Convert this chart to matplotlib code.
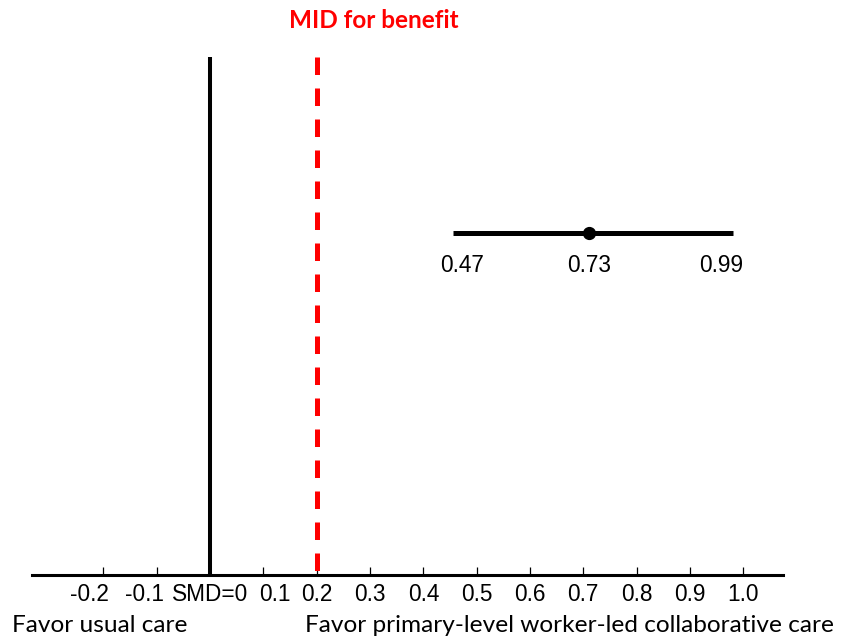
import matplotlib
matplotlib.use("Agg")
import matplotlib.pyplot as plt
import matplotlib.transforms as mtransforms

# ---- data ----
tick_values = [-0.2, -0.1, 0.0, 0.1, 0.2, 0.3, 0.4, 0.5, 0.6, 0.7, 0.8, 0.9, 1.0]
tick_labels = ["-0.2", "-0.1", "SMD=0", "0.1", "0.2", "0.3", "0.4", "0.5", "0.6", "0.7", "0.8", "0.9", "1.0"]
ci_low, estimate, ci_high = 0.456, 0.711, 0.981
ci_labels = ["0.47", "0.73", "0.99"]
null_line = 0.0
mid_line = 0.2
mid_label = "MID for benefit"
left_label = "Favor usual care"
right_label = "Favor primary-level worker-led collaborative care"

W, H = 852, 640
fig = plt.figure(figsize=(W / 100, H / 100), dpi=100)
ax = fig.add_axes([0, 0, 1, 1])
x0_px, unit_px = 210.0, 533.3
ax.set_xlim(-x0_px / unit_px, (W - x0_px) / unit_px)
ax.set_ylim(H, 0)  # y in pixel-like units, top = 0
ax.patch.set_alpha(0)

for s in ["top", "right", "left"]:
    ax.spines[s].set_visible(False)
ax.spines["bottom"].set_position(("data", 575))
ax.spines["bottom"].set_bounds(-0.334, 1.074)
ax.spines["bottom"].set_linewidth(2.2)
ax.set_yticks([])
ax.set_xticks(tick_values)
ax.set_xticklabels(tick_labels, fontfamily="Liberation Sans", fontsize=16.3)
ax.tick_params(axis="x", direction="in", length=6, width=0.9, pad=6, color="black")

# shift some tick labels like in the reference
shifts = {"-0.2": -10, "-0.1": -9, "0.1": 8}
for lab in ax.get_xticklabels():
    t = lab.get_text()
    if t in shifts:
        lab.set_transform(lab.get_transform() + mtransforms.ScaledTranslation(shifts[t] / 72, 0, fig.dpi_scale_trans))

# null line
ax.plot([null_line, null_line], [57, 575], color="black", lw=2.9, solid_capstyle="butt")
# MID dashed line
ax.plot([mid_line, mid_line], [57, 575], color="#ff0000", lw=3.6, dashes=(3.5, 2.7), solid_capstyle="butt", dash_capstyle="butt")
ax.text(mid_line + 0.107, 20, mid_label, color="#ff0000", fontsize=17.5, fontweight="bold",
        fontfamily="Lato", ha="center", va="center")

# CI
ax.plot([ci_low, ci_high], [233, 233], color="black", lw=3.6, solid_capstyle="butt")
ax.plot([estimate], [233], "o", color="black", markersize=8.5)
label_x = [ci_low + 0.016, estimate, ci_high - 0.023]
for lx, lt in zip(label_x, ci_labels):
    ax.text(lx, 265, lt, fontsize=16.3, fontfamily="Liberation Sans", ha="center", va="center")

# bottom labels
ax.text((12 - x0_px) / unit_px, 625, left_label, fontsize=17.6, fontfamily="Lato", ha="left", va="center")
ax.text((305 - x0_px) / unit_px, 625, right_label, fontsize=17.6, fontfamily="Lato", ha="left", va="center")

fig.savefig("out.png", dpi=100, facecolor="white")
